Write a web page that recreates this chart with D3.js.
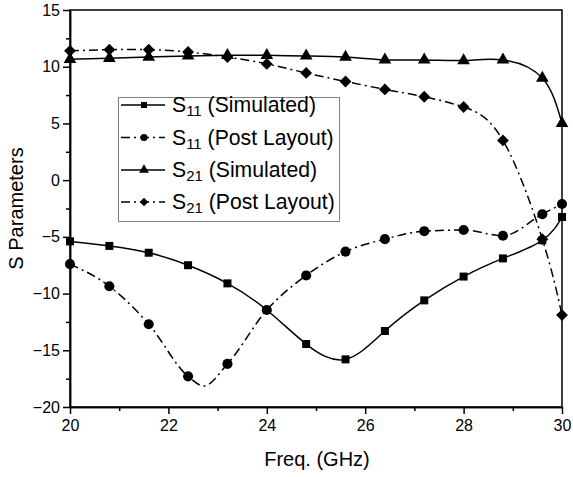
<!DOCTYPE html>
<html>
<head>
<meta charset="utf-8">
<script src="https://cdn.jsdelivr.net/npm/d3@7"></script>
<style>
  html, body { margin: 0; padding: 0; background: #fff; }
  svg { display: block; font-family: "Liberation Sans", Arial, sans-serif; }
</style>
</head>
<body>
<svg id="chart" width="573" height="477"></svg>
<script>
// Frequency samples (GHz) where each trace has a marker
const freq = [20, 20.8, 21.6, 22.4, 23.2, 24, 24.8, 25.6, 26.4, 27.2, 28, 28.8, 29.6, 30];

// S-parameter traces (dB)
const s11Sim  = [-5.4, -5.8, -6.4, -7.5, -9.1, -11.45, -14.45, -15.8, -13.3, -10.6, -8.5, -6.9, -5.3, -3.25];
const s11Post = [-7.4, -9.35, -12.7, -17.3, -16.2, -11.45, -8.4, -6.3, -5.2, -4.5, -4.4, -4.9, -3.0, -2.1];
const s21Sim  = [10.65, 10.75, 10.85, 10.95, 11.0, 11.0, 10.95, 10.85, 10.6, 10.6, 10.55, 10.6, 9.0, 5.0];
const s21Post = [11.4, 11.5, 11.5, 11.3, 10.85, 10.25, 9.45, 8.7, 8.0, 7.35, 6.45, 3.5, -5.2, -11.9];

// Deepest point of the post-layout S11 trace, between marker samples [GHz, dB]
const s11PostTrough = [22.72, -18.15];

// Axis ticks
const xTicks = [20, 22, 24, 26, 28, 30];
const xMinor = [21, 23, 25, 27, 29];
const yTicks = [-20, -15, -10, -5, 0, 5, 10, 15];
const yMinor = [-17.5, -12.5, -7.5, -2.5, 2.5, 7.5, 12.5];

const seriesNames = ["11", "11", "21", "21"];
const seriesNotes = [" (Simulated)", " (Post Layout)", " (Simulated)", " (Post Layout)"];

const pairs = vals => vals.map((v, i) => [freq[i], v]);
const withExtra = (vals, extra) => pairs(vals).concat([extra]).sort((a, b) => a[0] - b[0]);

// Rotated square used for the diamond markers
const diamond = {
  draw(ctx, size) {
    const r = Math.sqrt(size / 2);
    ctx.moveTo(0, -r); ctx.lineTo(r, 0); ctx.lineTo(0, r); ctx.lineTo(-r, 0); ctx.closePath();
  }
};

const series = [
  { sub: seriesNames[0], note: seriesNotes[0], pts: pairs(s11Sim),  line: pairs(s11Sim),  curve: d3.curveNatural,
    symbol: d3.symbolSquare, size: 64, legSize: 36, dash: null },
  { sub: seriesNames[1], note: seriesNotes[1], pts: pairs(s11Post), line: withExtra(s11Post, s11PostTrough), curve: d3.curveMonotoneX,
    symbol: d3.symbolCircle, size: 80, legSize: 40, dash: "9,4,2,4" },
  { sub: seriesNames[2], note: seriesNotes[2], pts: pairs(s21Sim),  line: pairs(s21Sim),  curve: d3.curveNatural,
    symbol: d3.symbolTriangle, size: 70, legSize: 42, dash: null },
  { sub: seriesNames[3], note: seriesNotes[3], pts: pairs(s21Post), line: pairs(s21Post), curve: d3.curveNatural,
    symbol: diamond, size: 70, legSize: 36, dash: "9,4,2,4" }
];

const svg = d3.select("#chart");
const plotLeft = 70, plotRight = 562, plotTop = 10, plotBottom = 407;

const x = d3.scaleLinear().domain([20, 30]).range([plotLeft, plotRight]);
const y = d3.scaleLinear().domain([-20, 15]).range([plotBottom, plotTop]);

const plot = svg.append("g");

// Traces
series.forEach(s => {
  const line = d3.line()
    .x(d => x(d[0]))
    .y(d => y(d[1]))
    .curve(s.curve);
  plot.append("path")
    .datum(s.line)
    .attr("d", line)
    .attr("fill", "none")
    .attr("stroke", "#000")
    .attr("stroke-width", 1.5)
    .attr("stroke-dasharray", s.dash);
});

series.forEach(s => {
  plot.selectAll(null)
    .data(s.pts)
    .enter()
    .append("path")
    .attr("transform", d => `translate(${x(d[0])},${y(d[1])})`)
    .attr("d", d3.symbol().type(s.symbol).size(s.size))
    .attr("fill", "#000");
});

// Frame
svg.append("rect")
  .attr("x", plotLeft).attr("y", plotTop)
  .attr("width", plotRight - plotLeft).attr("height", plotBottom - plotTop)
  .attr("fill", "none").attr("stroke", "#000").attr("stroke-width", 1.5);

// Axes
svg.append("g").attr("transform", `translate(0,${plotBottom})`)
  .call(d3.axisBottom(x).tickValues(xTicks).tickSize(7).tickSizeOuter(0).tickPadding(6));
svg.append("g").attr("transform", `translate(0,${plotBottom})`)
  .call(d3.axisBottom(x).tickValues(xMinor).tickSize(4).tickSizeOuter(0).tickFormat(""));
svg.append("g").attr("transform", `translate(${plotLeft},0)`)
  .call(d3.axisLeft(y).tickValues(yTicks).tickSize(7).tickSizeOuter(0).tickPadding(3));
svg.append("g").attr("transform", `translate(${plotLeft},0)`)
  .call(d3.axisLeft(y).tickValues(yMinor).tickSize(4).tickSizeOuter(0).tickFormat(""));

svg.selectAll(".domain").attr("stroke-width", 1.5);
svg.selectAll(".tick line").attr("stroke-width", 1.5);
svg.selectAll(".tick text")
  .attr("font-family", "'Liberation Sans', Arial, sans-serif")
  .attr("font-size", 16)
  .attr("fill", "#000");

// Axis titles
svg.append("text")
  .attr("x", (plotLeft + plotRight) / 2 + 1).attr("y", 466)
  .attr("text-anchor", "middle")
  .attr("font-size", 20)
  .text("Freq. (GHz)");

svg.append("text")
  .attr("transform", `translate(23,${(plotTop + plotBottom) / 2}) rotate(-90)`)
  .attr("text-anchor", "middle")
  .attr("font-size", 20)
  .text("S Parameters");

// Legend
const leg = svg.append("g");
leg.append("rect")
  .attr("x", 118.5).attr("y", 97.5).attr("width", 221).attr("height", 124)
  .attr("fill", "#fff").attr("stroke", "#808080").attr("stroke-width", 1);

const rowY = [105, 137.5, 170, 202];
series.forEach((s, i) => {
  const g = leg.append("g").attr("transform", `translate(0,${rowY[i]})`);
  g.append("line")
    .attr("x1", 121).attr("x2", 165).attr("y1", 0).attr("y2", 0)
    .attr("stroke", "#000").attr("stroke-width", 1.5)
    .attr("stroke-dasharray", s.dash);
  g.append("path")
    .attr("transform", "translate(144,0)")
    .attr("d", d3.symbol().type(s.symbol).size(s.legSize))
    .attr("fill", "#000");
  const t = g.append("text")
    .attr("x", 172).attr("y", 7)
    .attr("font-size", 21.2);
  t.append("tspan").text("S");
  t.append("tspan").attr("font-size", 15).attr("dy", 4).text(s.sub);
  t.append("tspan").attr("dy", -4).text(s.note);
});
</script>
</body>
</html>
